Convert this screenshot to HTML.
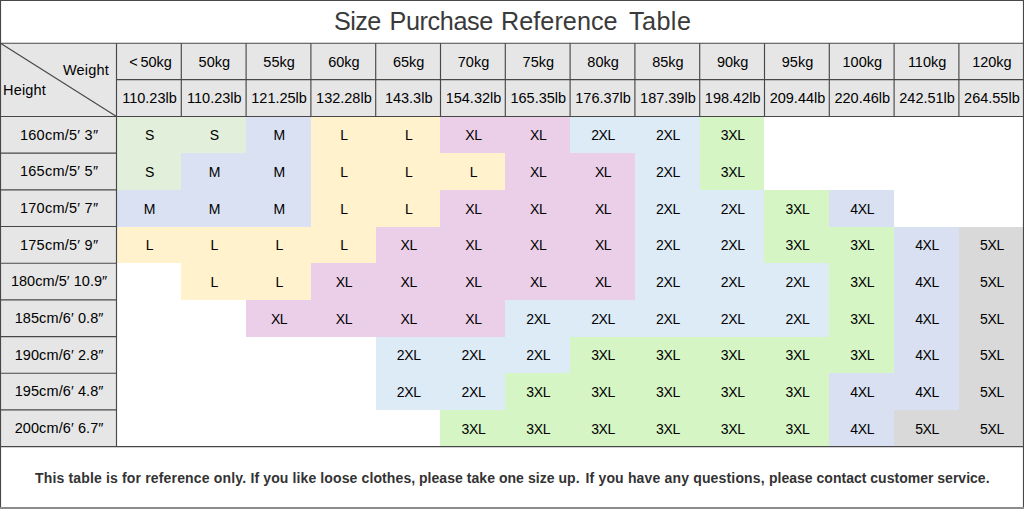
<!DOCTYPE html>
<html lang="en"><head><meta charset="utf-8"><title>Size Purchase Reference Table</title>
<style>
html,body{margin:0;padding:0;background:#fff}
#p{position:relative;width:1024px;height:509px;overflow:hidden;background:#fff;font-family:"Liberation Sans",sans-serif;color:#000}
#p svg{position:absolute;left:0;top:0}
.c{position:absolute;width:200px;height:24px;line-height:24px;text-align:center;font-size:14px;white-space:nowrap}
.w{font-size:14.5px}
.s{font-size:14px;letter-spacing:-0.35px}
.r{font-size:14.5px;letter-spacing:0.25px}
.t{position:absolute;left:0;width:1024px;text-align:center;white-space:nowrap}
#title{top:4px;height:34px;line-height:34px;font-size:25.2px;color:#3a3a3a}
.t span{position:absolute;top:0;white-space:nowrap}
#foot{top:466px;height:24px;line-height:24px;font-size:14px;font-weight:bold;color:#333}
.h{position:absolute;font-size:14.5px;letter-spacing:0.18px;line-height:20px;white-space:nowrap}
</style></head><body><div id="p">
<svg width="1024" height="509" viewBox="0 0 1024 509" shape-rendering="crispEdges">
<rect x="0" y="43" width="1024" height="74" fill="#e6e6e6"/>
<rect x="0" y="117" width="117" height="330" fill="#e6e6e6"/>
<rect x="117" y="117" width="64" height="36" fill="#e2efda"/>
<rect x="181" y="117" width="65" height="36" fill="#e2efda"/>
<rect x="246" y="117" width="65" height="36" fill="#d9e1f2"/>
<rect x="311" y="117" width="65" height="36" fill="#fff2cc"/>
<rect x="376" y="117" width="64" height="36" fill="#fff2cc"/>
<rect x="440" y="117" width="65" height="36" fill="#ebcfe9"/>
<rect x="505" y="117" width="65" height="36" fill="#ebcfe9"/>
<rect x="570" y="117" width="65" height="36" fill="#ddebf7"/>
<rect x="635" y="117" width="65" height="36" fill="#ddebf7"/>
<rect x="700" y="117" width="64" height="36" fill="#d5f5c4"/>
<rect x="117" y="153" width="64" height="37" fill="#e2efda"/>
<rect x="181" y="153" width="65" height="37" fill="#d9e1f2"/>
<rect x="246" y="153" width="65" height="37" fill="#d9e1f2"/>
<rect x="311" y="153" width="65" height="37" fill="#fff2cc"/>
<rect x="376" y="153" width="64" height="37" fill="#fff2cc"/>
<rect x="440" y="153" width="65" height="37" fill="#fff2cc"/>
<rect x="505" y="153" width="65" height="37" fill="#ebcfe9"/>
<rect x="570" y="153" width="65" height="37" fill="#ebcfe9"/>
<rect x="635" y="153" width="65" height="37" fill="#ddebf7"/>
<rect x="700" y="153" width="64" height="37" fill="#d5f5c4"/>
<rect x="117" y="190" width="64" height="37" fill="#d9e1f2"/>
<rect x="181" y="190" width="65" height="37" fill="#d9e1f2"/>
<rect x="246" y="190" width="65" height="37" fill="#d9e1f2"/>
<rect x="311" y="190" width="65" height="37" fill="#fff2cc"/>
<rect x="376" y="190" width="64" height="37" fill="#fff2cc"/>
<rect x="440" y="190" width="65" height="37" fill="#ebcfe9"/>
<rect x="505" y="190" width="65" height="37" fill="#ebcfe9"/>
<rect x="570" y="190" width="65" height="37" fill="#ebcfe9"/>
<rect x="635" y="190" width="65" height="37" fill="#ddebf7"/>
<rect x="700" y="190" width="64" height="37" fill="#ddebf7"/>
<rect x="764" y="190" width="65" height="37" fill="#d5f5c4"/>
<rect x="829" y="190" width="65" height="37" fill="#d9e0f2"/>
<rect x="117" y="227" width="64" height="36" fill="#fff2cc"/>
<rect x="181" y="227" width="65" height="36" fill="#fff2cc"/>
<rect x="246" y="227" width="65" height="36" fill="#fff2cc"/>
<rect x="311" y="227" width="65" height="36" fill="#fff2cc"/>
<rect x="376" y="227" width="64" height="36" fill="#ebcfe9"/>
<rect x="440" y="227" width="65" height="36" fill="#ebcfe9"/>
<rect x="505" y="227" width="65" height="36" fill="#ebcfe9"/>
<rect x="570" y="227" width="65" height="36" fill="#ebcfe9"/>
<rect x="635" y="227" width="65" height="36" fill="#ddebf7"/>
<rect x="700" y="227" width="64" height="36" fill="#ddebf7"/>
<rect x="764" y="227" width="65" height="36" fill="#d5f5c4"/>
<rect x="829" y="227" width="65" height="36" fill="#d5f5c4"/>
<rect x="894" y="227" width="65" height="36" fill="#d9e0f2"/>
<rect x="959" y="227" width="65" height="36" fill="#d9d9d9"/>
<rect x="181" y="263" width="65" height="37" fill="#fff2cc"/>
<rect x="246" y="263" width="65" height="37" fill="#fff2cc"/>
<rect x="311" y="263" width="65" height="37" fill="#ebcfe9"/>
<rect x="376" y="263" width="64" height="37" fill="#ebcfe9"/>
<rect x="440" y="263" width="65" height="37" fill="#ebcfe9"/>
<rect x="505" y="263" width="65" height="37" fill="#ebcfe9"/>
<rect x="570" y="263" width="65" height="37" fill="#ebcfe9"/>
<rect x="635" y="263" width="65" height="37" fill="#ddebf7"/>
<rect x="700" y="263" width="64" height="37" fill="#ddebf7"/>
<rect x="764" y="263" width="65" height="37" fill="#ddebf7"/>
<rect x="829" y="263" width="65" height="37" fill="#d5f5c4"/>
<rect x="894" y="263" width="65" height="37" fill="#d9e0f2"/>
<rect x="959" y="263" width="65" height="37" fill="#d9d9d9"/>
<rect x="246" y="300" width="65" height="37" fill="#ebcfe9"/>
<rect x="311" y="300" width="65" height="37" fill="#ebcfe9"/>
<rect x="376" y="300" width="64" height="37" fill="#ebcfe9"/>
<rect x="440" y="300" width="65" height="37" fill="#ebcfe9"/>
<rect x="505" y="300" width="65" height="37" fill="#ddebf7"/>
<rect x="570" y="300" width="65" height="37" fill="#ddebf7"/>
<rect x="635" y="300" width="65" height="37" fill="#ddebf7"/>
<rect x="700" y="300" width="64" height="37" fill="#ddebf7"/>
<rect x="764" y="300" width="65" height="37" fill="#ddebf7"/>
<rect x="829" y="300" width="65" height="37" fill="#d5f5c4"/>
<rect x="894" y="300" width="65" height="37" fill="#d9e0f2"/>
<rect x="959" y="300" width="65" height="37" fill="#d9d9d9"/>
<rect x="376" y="337" width="64" height="36" fill="#ddebf7"/>
<rect x="440" y="337" width="65" height="36" fill="#ddebf7"/>
<rect x="505" y="337" width="65" height="36" fill="#ddebf7"/>
<rect x="570" y="337" width="65" height="36" fill="#d5f5c4"/>
<rect x="635" y="337" width="65" height="36" fill="#d5f5c4"/>
<rect x="700" y="337" width="64" height="36" fill="#d5f5c4"/>
<rect x="764" y="337" width="65" height="36" fill="#d5f5c4"/>
<rect x="829" y="337" width="65" height="36" fill="#d5f5c4"/>
<rect x="894" y="337" width="65" height="36" fill="#d9e0f2"/>
<rect x="959" y="337" width="65" height="36" fill="#d9d9d9"/>
<rect x="376" y="373" width="64" height="37" fill="#ddebf7"/>
<rect x="440" y="373" width="65" height="37" fill="#ddebf7"/>
<rect x="505" y="373" width="65" height="37" fill="#d5f5c4"/>
<rect x="570" y="373" width="65" height="37" fill="#d5f5c4"/>
<rect x="635" y="373" width="65" height="37" fill="#d5f5c4"/>
<rect x="700" y="373" width="64" height="37" fill="#d5f5c4"/>
<rect x="764" y="373" width="65" height="37" fill="#d5f5c4"/>
<rect x="829" y="373" width="65" height="37" fill="#d9e0f2"/>
<rect x="894" y="373" width="65" height="37" fill="#d9e0f2"/>
<rect x="959" y="373" width="65" height="37" fill="#d9d9d9"/>
<rect x="440" y="410" width="65" height="36" fill="#d5f5c4"/>
<rect x="505" y="410" width="65" height="36" fill="#d5f5c4"/>
<rect x="570" y="410" width="65" height="36" fill="#d5f5c4"/>
<rect x="635" y="410" width="65" height="36" fill="#d5f5c4"/>
<rect x="700" y="410" width="64" height="36" fill="#d5f5c4"/>
<rect x="764" y="410" width="65" height="36" fill="#d5f5c4"/>
<rect x="829" y="410" width="65" height="36" fill="#d9e0f2"/>
<rect x="894" y="410" width="65" height="36" fill="#d9d9d9"/>
<rect x="959" y="410" width="65" height="36" fill="#d9d9d9"/>
<g stroke="#484848" stroke-width="1.15" fill="none" shape-rendering="geometricPrecision"><line x1="0" y1="43.2" x2="1024" y2="43.2"/><line x1="116.5" y1="79.65" x2="1024" y2="79.65"/><line x1="0" y1="116.5" x2="1024" y2="116.5"/><line x1="116.5" y1="43.2" x2="116.5" y2="116.5"/><line x1="181.3" y1="43.2" x2="181.3" y2="116.5"/><line x1="246.1" y1="43.2" x2="246.1" y2="116.5"/><line x1="310.9" y1="43.2" x2="310.9" y2="116.5"/><line x1="375.7" y1="43.2" x2="375.7" y2="116.5"/><line x1="440.5" y1="43.2" x2="440.5" y2="116.5"/><line x1="505.3" y1="43.2" x2="505.3" y2="116.5"/><line x1="570.1" y1="43.2" x2="570.1" y2="116.5"/><line x1="634.9" y1="43.2" x2="634.9" y2="116.5"/><line x1="699.7" y1="43.2" x2="699.7" y2="116.5"/><line x1="764.5" y1="43.2" x2="764.5" y2="116.5"/><line x1="829.3" y1="43.2" x2="829.3" y2="116.5"/><line x1="894.1" y1="43.2" x2="894.1" y2="116.5"/><line x1="958.9" y1="43.2" x2="958.9" y2="116.5"/><line x1="116.5" y1="116.5" x2="116.5" y2="446.62"/><line x1="0" y1="153.18" x2="116.5" y2="153.18"/><line x1="0" y1="189.86" x2="116.5" y2="189.86"/><line x1="0" y1="226.54" x2="116.5" y2="226.54"/><line x1="0" y1="263.22" x2="116.5" y2="263.22"/><line x1="0" y1="299.9" x2="116.5" y2="299.9"/><line x1="0" y1="336.58" x2="116.5" y2="336.58"/><line x1="0" y1="373.26" x2="116.5" y2="373.26"/><line x1="0" y1="409.94" x2="116.5" y2="409.94"/><line x1="0" y1="446.62" x2="1024" y2="446.62"/><line x1="0.5" y1="43.2" x2="116.5" y2="116.5"/><line x1="0.5" y1="0" x2="0.5" y2="509"/><line x1="1023.5" y1="0" x2="1023.5" y2="509"/><line x1="0" y1="0.5" x2="1024" y2="0.5"/></g>
<rect x="0" y="507" width="1024" height="2" fill="#8c8c8c"/>
</svg>
<div class="t" id="title"><span style="left:334px;letter-spacing:-0.6px">Size</span> <span style="left:389.5px;letter-spacing:-0.37px">Purchase</span> <span style="left:501px;letter-spacing:0.05px">Reference</span> <span style="left:629px;letter-spacing:0.42px">Table</span></div>
<div class="h" style="left:63px;top:60px">Weight</div>
<div class="h" style="left:3px;top:80px">Height</div>
<div class="c w" style="left:50.5px;top:49.6px;word-spacing:-1.2px">&lt; 50kg</div>
<div class="c w" style="left:49.5px;top:85.6px">110.23lb</div>
<div class="c w" style="left:114.3px;top:49.6px">50kg</div>
<div class="c w" style="left:114.3px;top:85.6px">110.23lb</div>
<div class="c w" style="left:179.1px;top:49.6px">55kg</div>
<div class="c w" style="left:179.1px;top:85.6px">121.25lb</div>
<div class="c w" style="left:243.9px;top:49.6px">60kg</div>
<div class="c w" style="left:243.9px;top:85.6px">132.28lb</div>
<div class="c w" style="left:308.7px;top:49.6px">65kg</div>
<div class="c w" style="left:308.7px;top:85.6px">143.3lb</div>
<div class="c w" style="left:373.5px;top:49.6px">70kg</div>
<div class="c w" style="left:373.5px;top:85.6px">154.32lb</div>
<div class="c w" style="left:438.3px;top:49.6px">75kg</div>
<div class="c w" style="left:438.3px;top:85.6px">165.35lb</div>
<div class="c w" style="left:503.1px;top:49.6px">80kg</div>
<div class="c w" style="left:503.1px;top:85.6px">176.37lb</div>
<div class="c w" style="left:567.9px;top:49.6px">85kg</div>
<div class="c w" style="left:567.9px;top:85.6px">187.39lb</div>
<div class="c w" style="left:632.7px;top:49.6px">90kg</div>
<div class="c w" style="left:632.7px;top:85.6px">198.42lb</div>
<div class="c w" style="left:697.5px;top:49.6px">95kg</div>
<div class="c w" style="left:697.5px;top:85.6px">209.44lb</div>
<div class="c w" style="left:762.3px;top:49.6px">100kg</div>
<div class="c w" style="left:762.3px;top:85.6px">220.46lb</div>
<div class="c w" style="left:827.1px;top:49.6px">110kg</div>
<div class="c w" style="left:827.1px;top:85.6px">242.51lb</div>
<div class="c w" style="left:891.9px;top:49.6px">120kg</div>
<div class="c w" style="left:891.9px;top:85.6px">264.55lb</div>
<div class="c r" style="left:-40.9px;top:122.64px">160cm/5′ 3″</div>
<div class="c s" style="left:49.5px;top:123.14px">S</div>
<div class="c s" style="left:114.3px;top:123.14px">S</div>
<div class="c s" style="left:179.1px;top:123.14px">M</div>
<div class="c s" style="left:243.9px;top:123.14px">L</div>
<div class="c s" style="left:308.7px;top:123.14px">L</div>
<div class="c s" style="left:373.5px;top:123.14px">XL</div>
<div class="c s" style="left:438.3px;top:123.14px">XL</div>
<div class="c s" style="left:503.1px;top:123.14px">2XL</div>
<div class="c s" style="left:567.9px;top:123.14px">2XL</div>
<div class="c s" style="left:632.7px;top:123.14px">3XL</div>
<div class="c r" style="left:-40.9px;top:159.32px">165cm/5′ 5″</div>
<div class="c s" style="left:49.5px;top:159.82px">S</div>
<div class="c s" style="left:114.3px;top:159.82px">M</div>
<div class="c s" style="left:179.1px;top:159.82px">M</div>
<div class="c s" style="left:243.9px;top:159.82px">L</div>
<div class="c s" style="left:308.7px;top:159.82px">L</div>
<div class="c s" style="left:373.5px;top:159.82px">L</div>
<div class="c s" style="left:438.3px;top:159.82px">XL</div>
<div class="c s" style="left:503.1px;top:159.82px">XL</div>
<div class="c s" style="left:567.9px;top:159.82px">2XL</div>
<div class="c s" style="left:632.7px;top:159.82px">3XL</div>
<div class="c r" style="left:-40.9px;top:196px">170cm/5′ 7″</div>
<div class="c s" style="left:49.5px;top:196.5px">M</div>
<div class="c s" style="left:114.3px;top:196.5px">M</div>
<div class="c s" style="left:179.1px;top:196.5px">M</div>
<div class="c s" style="left:243.9px;top:196.5px">L</div>
<div class="c s" style="left:308.7px;top:196.5px">L</div>
<div class="c s" style="left:373.5px;top:196.5px">XL</div>
<div class="c s" style="left:438.3px;top:196.5px">XL</div>
<div class="c s" style="left:503.1px;top:196.5px">XL</div>
<div class="c s" style="left:567.9px;top:196.5px">2XL</div>
<div class="c s" style="left:632.7px;top:196.5px">2XL</div>
<div class="c s" style="left:697.5px;top:196.5px">3XL</div>
<div class="c s" style="left:762.3px;top:196.5px">4XL</div>
<div class="c r" style="left:-40.9px;top:232.68px">175cm/5′ 9″</div>
<div class="c s" style="left:49.5px;top:233.18px">L</div>
<div class="c s" style="left:114.3px;top:233.18px">L</div>
<div class="c s" style="left:179.1px;top:233.18px">L</div>
<div class="c s" style="left:243.9px;top:233.18px">L</div>
<div class="c s" style="left:308.7px;top:233.18px">XL</div>
<div class="c s" style="left:373.5px;top:233.18px">XL</div>
<div class="c s" style="left:438.3px;top:233.18px">XL</div>
<div class="c s" style="left:503.1px;top:233.18px">XL</div>
<div class="c s" style="left:567.9px;top:233.18px">2XL</div>
<div class="c s" style="left:632.7px;top:233.18px">2XL</div>
<div class="c s" style="left:697.5px;top:233.18px">3XL</div>
<div class="c s" style="left:762.3px;top:233.18px">3XL</div>
<div class="c s" style="left:827.1px;top:233.18px">4XL</div>
<div class="c s" style="left:891.9px;top:233.18px">5XL</div>
<div class="c r" style="left:-40.9px;top:269.36px;letter-spacing:0.05px">180cm/5′ 10.9″</div>
<div class="c s" style="left:114.3px;top:269.86px">L</div>
<div class="c s" style="left:179.1px;top:269.86px">L</div>
<div class="c s" style="left:243.9px;top:269.86px">XL</div>
<div class="c s" style="left:308.7px;top:269.86px">XL</div>
<div class="c s" style="left:373.5px;top:269.86px">XL</div>
<div class="c s" style="left:438.3px;top:269.86px">XL</div>
<div class="c s" style="left:503.1px;top:269.86px">XL</div>
<div class="c s" style="left:567.9px;top:269.86px">2XL</div>
<div class="c s" style="left:632.7px;top:269.86px">2XL</div>
<div class="c s" style="left:697.5px;top:269.86px">2XL</div>
<div class="c s" style="left:762.3px;top:269.86px">3XL</div>
<div class="c s" style="left:827.1px;top:269.86px">4XL</div>
<div class="c s" style="left:891.9px;top:269.86px">5XL</div>
<div class="c r" style="left:-40.9px;top:306.04px;letter-spacing:0.1px">185cm/6′ 0.8″</div>
<div class="c s" style="left:179.1px;top:306.54px">XL</div>
<div class="c s" style="left:243.9px;top:306.54px">XL</div>
<div class="c s" style="left:308.7px;top:306.54px">XL</div>
<div class="c s" style="left:373.5px;top:306.54px">XL</div>
<div class="c s" style="left:438.3px;top:306.54px">2XL</div>
<div class="c s" style="left:503.1px;top:306.54px">2XL</div>
<div class="c s" style="left:567.9px;top:306.54px">2XL</div>
<div class="c s" style="left:632.7px;top:306.54px">2XL</div>
<div class="c s" style="left:697.5px;top:306.54px">2XL</div>
<div class="c s" style="left:762.3px;top:306.54px">3XL</div>
<div class="c s" style="left:827.1px;top:306.54px">4XL</div>
<div class="c s" style="left:891.9px;top:306.54px">5XL</div>
<div class="c r" style="left:-40.9px;top:342.72px;letter-spacing:0.1px">190cm/6′ 2.8″</div>
<div class="c s" style="left:308.7px;top:343.22px">2XL</div>
<div class="c s" style="left:373.5px;top:343.22px">2XL</div>
<div class="c s" style="left:438.3px;top:343.22px">2XL</div>
<div class="c s" style="left:503.1px;top:343.22px">3XL</div>
<div class="c s" style="left:567.9px;top:343.22px">3XL</div>
<div class="c s" style="left:632.7px;top:343.22px">3XL</div>
<div class="c s" style="left:697.5px;top:343.22px">3XL</div>
<div class="c s" style="left:762.3px;top:343.22px">3XL</div>
<div class="c s" style="left:827.1px;top:343.22px">4XL</div>
<div class="c s" style="left:891.9px;top:343.22px">5XL</div>
<div class="c r" style="left:-40.9px;top:379.4px;letter-spacing:0.1px">195cm/6′ 4.8″</div>
<div class="c s" style="left:308.7px;top:379.9px">2XL</div>
<div class="c s" style="left:373.5px;top:379.9px">2XL</div>
<div class="c s" style="left:438.3px;top:379.9px">3XL</div>
<div class="c s" style="left:503.1px;top:379.9px">3XL</div>
<div class="c s" style="left:567.9px;top:379.9px">3XL</div>
<div class="c s" style="left:632.7px;top:379.9px">3XL</div>
<div class="c s" style="left:697.5px;top:379.9px">3XL</div>
<div class="c s" style="left:762.3px;top:379.9px">4XL</div>
<div class="c s" style="left:827.1px;top:379.9px">4XL</div>
<div class="c s" style="left:891.9px;top:379.9px">5XL</div>
<div class="c r" style="left:-40.9px;top:416.08px;letter-spacing:0.1px">200cm/6′ 6.7″</div>
<div class="c s" style="left:373.5px;top:416.58px">3XL</div>
<div class="c s" style="left:438.3px;top:416.58px">3XL</div>
<div class="c s" style="left:503.1px;top:416.58px">3XL</div>
<div class="c s" style="left:567.9px;top:416.58px">3XL</div>
<div class="c s" style="left:632.7px;top:416.58px">3XL</div>
<div class="c s" style="left:697.5px;top:416.58px">3XL</div>
<div class="c s" style="left:762.3px;top:416.58px">4XL</div>
<div class="c s" style="left:827.1px;top:416.58px">5XL</div>
<div class="c s" style="left:891.9px;top:416.58px">5XL</div>
<div class="t" id="foot"><span style="left:35px;letter-spacing:0.16px">This table is for reference only.</span> <span style="left:250.5px;letter-spacing:0.115px">If you like loose clothes,</span> <span style="left:419px;letter-spacing:0.045px">please take one size up.</span> <span style="left:585.5px;letter-spacing:0.165px">If you have any questions,</span> <span style="left:769px;letter-spacing:0.01px">please contact customer service.</span></div>
</div></body></html>
